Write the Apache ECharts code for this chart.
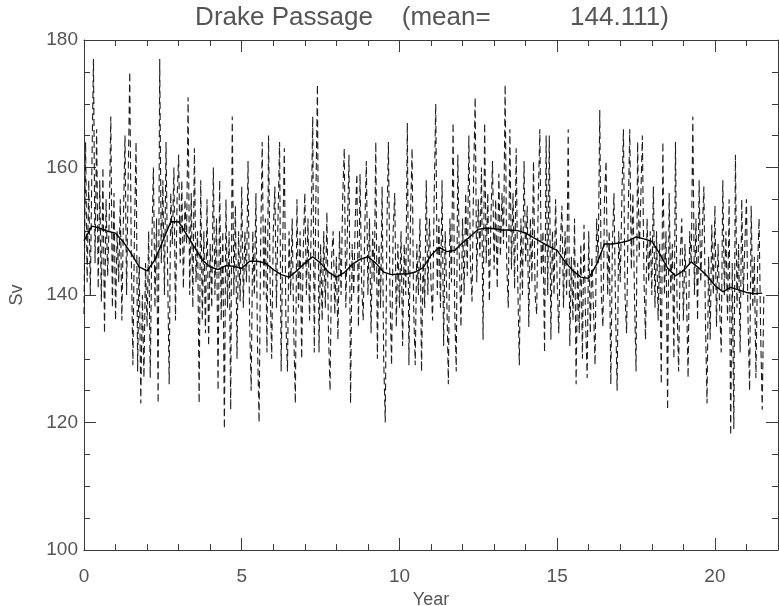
<!DOCTYPE html>
<html>
<head>
<meta charset="utf-8">
<script src="https://cdn.jsdelivr.net/npm/echarts@6/dist/echarts.min.js"></script>
<style>html,body{margin:0;padding:0;background:#fff}#c{width:779px;height:606px}</style>
</head>
<body>
<div id="c"></div>
<script>
// Title
const titleText = 'Drake Passage    (mean=           144.111)';
const xName = 'Year';
const yName = 'Sv';
// tick labels
const xTickLabels = [0, 5, 10, 15, 20];
const yTickLabels = [100, 120, 140, 160, 180];

// Raw (dashed) series: one value every 0.05 year, starting at year 0
const rawStep = 0.05;
const raw00 = [137,164,142,158,140,160,177,145,166,141,158,139,160,134,155,143,152,168,138,156];
const raw01 = [136,150,142,155,136,152,165,140,158,175,146,129,150,164,128,146,123,140,127,145];
const raw02 = [135,150,127,148,160,138,152,123,177,145,158,140,164,144,126,156,148,160,136,155];
const raw03 = [162,145,158,141,155,148,171,140,156,138,163,142,150,123,158,136,150,134,155,132];
const raw04 = [148,138,160,140,152,125,158,136,150,119,155,138,150,122,168,140,154,130,150,139];
const raw05 = [157,138,150,142,161,136,125,150,140,156,132,120,148,164,140,152,131,165,142,130];
const raw06 = [150,157,138,152,164,128,148,163,136,128,150,140,152,134,123,155,138,150,130,147];
const raw07 = [156,140,152,136,150,168,131,155,173,131,148,136,150,138,153,134,125,146,150,137];
const raw08 = [146,133,150,140,155,163,138,150,162,123,148,140,152,159,135,159,142,136,150,161];
const raw09 = [140,152,134,150,142,164,130,148,138,157,130,120,150,164,140,129,150,156,135,148];
const raw10 = [138,150,132,148,140,167,129,152,163,138,129,148,140,152,128,146,138,158,140,152];
const raw11 = [142,136,155,170,140,152,138,158,132,150,140,126,152,142,167,138,128,162,145,135];
const raw12 = [152,140,156,143,165,145,139,158,171,142,155,146,160,133,167,145,156,139,152,161];
const raw13 = [144,155,141,159,146,156,148,173,145,138,166,144,156,141,163,142,129,152,140,161];
const raw14 = [145,154,135,152,142,161,140,137,155,166,143,150,131,165,140,165,133,150,140,155];
const raw15 = [142,134,148,154,138,150,140,166,132,146,136,152,126,145,134,148,130,151,136,127];
const raw16 = [150,134,146,138,129,152,145,169,140,135,155,161,140,150,126,148,156,138,125,150];
const raw17 = [142,155,166,140,134,152,166,144,156,140,128,164,146,155,165,143,133,152,142,150];
const raw18 = [140,157,138,150,136,148,126,164,140,150,122,156,140,148,130,164,138,128,146,152];
const raw19 = [136,148,140,127,150,145,168,140,152,136,158,142,150,157,136,123,146,133,151,140];
const raw20 = [154,135,148,138,131,158,140,150,136,155,118,145,119,162,138,148,131,155,140,148];
const raw21 = [155,136,125,154,138,146,127,144,152,134,122,140];

// Smoothed (solid) series: one value every 0.25 year, starting at year 0
const smoothStep = 0.25;
const smoothVals = [
  148.5,150.8,150.5,150.0, 149.7,148.3,146.5,144.4, 143.8,145.5,148.5,151.5,
  151.5,149.5,147.5,145.5, 144.4,144.0,144.6,144.5, 144.2,145.3,145.3,145.0,
  144.0,143.2,142.8,143.8, 145.0,146.0,145.0,143.6, 142.8,143.5,144.8,145.6,
  146.0,145.0,143.6,143.2, 143.3,143.3,143.6,144.3, 146.2,147.5,146.8,147.0,
  148.2,149.2,150.3,150.5, 150.4,150.2,150.2,150.1, 149.7,149.0,148.3,147.6,
  147.0,145.2,143.8,142.8, 142.6,144.8,148.0,148.0, 148.2,148.5,149.1,148.8,
  148.4,146.5,144.2,143.0, 143.8,145.2,144.2,143.0, 141.5,140.5,141.2,140.8,
  140.4,140.2,140.3
];

const rawVals = [].concat(raw00,raw01,raw02,raw03,raw04,raw05,raw06,raw07,raw08,raw09,raw10,
  raw11,raw12,raw13,raw14,raw15,raw16,raw17,raw18,raw19,raw20,raw21);
const rawData = rawVals.map((v, i) => [+(i * rawStep).toFixed(2), v]);
const smoothData = smoothVals.map((v, i) => [+(i * smoothStep).toFixed(2), v]);

const axisColor = '#3a3a3a';
const textColor = '#555';
const fontFamily = '"Liberation Sans", "DejaVu Sans", sans-serif';

function xAxisDef(pos, major) {
  return {
    type: 'value', position: pos, min: 0, max: 22, interval: major ? 5 : 1,
    axisLine: { show: major, onZero: false, lineStyle: { color: axisColor, width: 1 } },
    axisTick: { show: true, inside: true, length: major ? 12 : 6, lineStyle: { color: axisColor } },
    axisLabel: {
      show: major && pos === 'bottom', margin: 17, color: textColor, fontSize: 19, fontFamily,
      formatter: v => (xTickLabels.indexOf(v) >= 0 ? String(v) : '')
    },
    splitLine: { show: false },
    name: (major && pos === 'bottom') ? xName : '',
    nameLocation: 'middle', nameGap: 38,
    nameTextStyle: { color: textColor, fontSize: 18, fontFamily }
  };
}
function yAxisDef(pos) {
  const left = pos === 'left';
  return {
    type: 'value', position: pos, min: 100, max: 180, interval: 20,
    axisLine: { show: true, onZero: false, lineStyle: { color: axisColor, width: 1 } },
    axisTick: { show: true, inside: true, length: 12, lineStyle: { color: axisColor } },
    minorTick: { show: true, splitNumber: 4, length: 6, lineStyle: { color: axisColor } },
    axisLabel: {
      show: left, margin: 6, color: textColor, fontSize: 19, fontFamily,
      formatter: v => (yTickLabels.indexOf(v) >= 0 ? String(v) : '')
    },
    splitLine: { show: false },
    name: left ? yName : '',
    nameLocation: 'middle', nameGap: 58, nameRotate: 90,
    nameTextStyle: { color: textColor, fontSize: 18, fontFamily }
  };
}

const chart = echarts.init(document.getElementById('c'), null, { renderer: 'canvas' });
chart.setOption({
  animation: false,
  backgroundColor: '#fff',
  title: {
    text: titleText, left: 427, top: 0, textAlign: 'center',
    textStyle: { color: textColor, fontSize: 26, fontWeight: 'normal', fontFamily }
  },
  grid: { left: 84, right: 1, top: 40, bottom: 56, outerBoundsMode: 'none', containLabel: false },
  xAxis: [xAxisDef('bottom', true), xAxisDef('bottom', false), xAxisDef('top', true), xAxisDef('top', false)],
  yAxis: [yAxisDef('left'), yAxisDef('right')],
  series: [
    {
      type: 'line', data: rawData, xAxisIndex: 0, yAxisIndex: 0,
      showSymbol: false, symbol: 'none',
      lineStyle: { color: '#111', width: 1.1, type: [7, 4], opacity: 0.95 }
    },
    {
      type: 'line', data: smoothData, xAxisIndex: 0, yAxisIndex: 0,
      showSymbol: false, symbol: 'none',
      lineStyle: { color: '#000', width: 1.4, type: 'solid' }
    }
  ]
});
</script>
</body>
</html>
